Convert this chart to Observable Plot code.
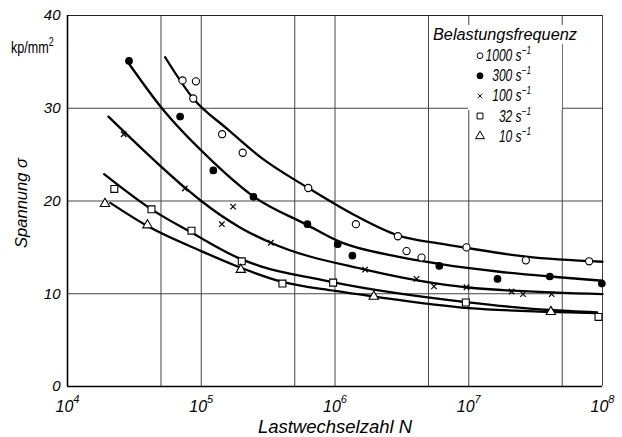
<!DOCTYPE html>
<html><head><meta charset="utf-8">
<script src="https://cdn.jsdelivr.net/npm/d3@7"></script>
<script src="https://cdn.jsdelivr.net/npm/@observablehq/plot@0.6"></script>
<style>
body{margin:0;background:#fff;}
#chart svg{display:block;}
</style></head><body><div id="chart"></div>
<script>
// ---- measured points (log10 of load cycles N, stress sigma in kp/mm^2) ----
const logN_1000 = [4.86, 4.96, 4.94, 5.156, 5.31, 5.80, 6.156, 6.47, 6.535, 6.647, 6.983, 7.427, 7.90];
const sigma_1000 = [33.0, 32.9, 31.05, 27.2, 25.2, 21.4, 17.5, 16.2, 14.6, 13.9, 15.0, 13.6, 13.5];
const logN_300 = [4.46, 4.842, 5.09, 5.39, 5.794, 6.02, 6.13, 6.78, 7.215, 7.606, 7.995];
const sigma_300 = [35.1, 29.1, 23.3, 20.45, 17.5, 15.35, 14.1, 13.0, 11.6, 11.86, 11.1];
const logN_100 = [4.42, 4.877, 5.238, 5.154, 5.52, 6.225, 6.61, 6.74, 6.983, 7.32, 7.406, 7.62];
const sigma_100 = [27.2, 21.35, 19.4, 17.5, 15.5, 12.6, 11.6, 10.8, 10.7, 10.24, 9.96, 9.96];
const logN_32 = [4.35, 4.628, 4.927, 5.303, 5.607, 5.986, 6.978, 7.97];
const sigma_32 = [21.3, 19.1, 16.8, 13.5, 11.1, 11.2, 9.06, 7.5];
const logN_10 = [4.28, 4.598, 5.296, 6.29, 7.614];
const sigma_10 = [19.7, 17.4, 12.6, 9.7, 8.05];

// ---- fitted curves ----
const curveLogN_1000 = [4.73, 4.94, 5.196, 5.445, 5.80, 6.156, 6.47, 6.79, 6.98, 7.43, 8.0];
const curveSigma_1000 = [35.5, 31.05, 27.75, 24.7, 21.4, 18.4, 16.3, 15.4, 14.95, 14.0, 13.45];
const curveLogN_300 = [4.46, 4.70, 5.09, 5.39, 5.794, 6.02, 6.467, 6.79, 7.215, 7.606, 8.0];
const curveSigma_300 = [34.8, 30.1, 24.2, 20.5, 17.4, 15.7, 14.0, 13.2, 12.4, 11.86, 11.4];
const curveLogN_100 = [4.306, 4.877, 5.0, 5.296, 5.52, 6.225, 6.79, 6.98, 8.0];
const curveSigma_100 = [29.1, 21.45, 20.0, 17.1, 15.5, 12.6, 11.04, 10.7, 9.96];
const curveLogN_32 = [4.274, 4.628, 4.927, 5.303, 5.445, 5.9, 6.0, 6.98, 7.6, 7.96];
const curveSigma_32 = [22.9, 19.1, 16.6, 13.7, 12.95, 11.5, 11.2, 9.1, 8.25, 8.0];
const curveLogN_10 = [4.32, 4.598, 5.0, 5.296, 5.6, 6.0, 6.29, 7.0, 7.6, 7.96];
const curveSigma_10 = [19.8, 17.3, 14.6, 12.8, 11.3, 10.3, 9.7, 8.45, 8.05, 7.9];

// ---- axes / labels ----
const xTickExponents = [4, 5, 6, 7, 8];
const xGridN = [1e4, 5e4, 1e5, 5e5, 1e6, 5e6, 1e7, 5e7, 1e8];
const yTicks = [0, 10, 20, 30, 40];
const yGrid = [10, 20, 30];
const seriesKeys = ["1000", "300", "100", "32", "10"];
const legendTitle = "Belastungsfrequenz";
const xTitle = "Lastwechselzahl N";
const yTitle = "Spannung σ";
const yUnit = "kp/mm";

const FONT = "'Liberation Sans', Arial, sans-serif";

const pts = {
  "1000": [logN_1000, sigma_1000], "300": [logN_300, sigma_300], "100": [logN_100, sigma_100],
  "32": [logN_32, sigma_32], "10": [logN_10, sigma_10]
};
const crv = {
  "1000": [curveLogN_1000, curveSigma_1000], "300": [curveLogN_300, curveSigma_300],
  "100": [curveLogN_100, curveSigma_100], "32": [curveLogN_32, curveSigma_32], "10": [curveLogN_10, curveSigma_10]
};
const toRows = (key, [ln, sg]) => ln.map((v, i) => ({N: Math.pow(10, v), s: sg[i], key}));
const pointRows = k => toRows(k, pts[k]);
const curveRows = seriesKeys.flatMap(k => toRows(k, crv[k]));

const style = {
  "1000": {symbol: "circle", fill: "white", r: 3.6},
  "300": {symbol: "circle", fill: "black", r: 3.3},
  "100": {symbol: "times", fill: "none", r: 2.6},
  "32": {symbol: "square", fill: "white", r: 3.9},
  "10": {symbol: "triangle", fill: "white", r: 3.5}
};

const chart = Plot.plot({
  width: 622, height: 437,
  marginLeft: 67, marginRight: 20, marginTop: 15, marginBottom: 51,
  style: {fontFamily: FONT, background: "white", color: "black"},
  x: {type: "log", domain: [1e4, 1e8]},
  y: {domain: [0, 40]},
  marks: [
    Plot.ruleX(xGridN, {stroke: "#444", strokeWidth: 1}),
    Plot.ruleY(yGrid, {stroke: "#444", strokeWidth: 1}),
    Plot.ruleY([40], {stroke: "#222", strokeWidth: 1}),
    Plot.ruleX([1e8], {stroke: "#444", strokeWidth: 1}),
    Plot.ruleY([0], {stroke: "black", strokeWidth: 1.6}),
    Plot.ruleX([1e4], {stroke: "black", strokeWidth: 1.6}),
    Plot.line(curveRows, {x: "N", y: "s", z: "key", curve: "monotone-x", stroke: "black", strokeWidth: 2.3}),
    ...seriesKeys.map(k => Plot.dot(pointRows(k), {
      x: "N", y: "s", symbol: style[k].symbol, r: style[k].r,
      fill: style[k].fill, stroke: "black", strokeWidth: style[k].symbol === "times" ? 1.2 : 1.1
    })),
    Plot.axisY({ticks: yTicks, tickSize: 0, tickPadding: 7, fontSize: 15, fontStyle: "italic", label: null}),
    Plot.axisX({ticks: xTickExponents.map(e => Math.pow(10, e)), tickSize: 0, tickPadding: 14,
      tickFormat: d => String(Math.round(Math.log10(d))), fontSize: 16, fontStyle: "italic", label: null})
  ]
});
document.getElementById("chart").appendChild(chart);

const svg = d3.select(chart);
// superscript exponents on x tick labels
svg.selectAll('[aria-label="x-axis tick label"] text').each(function() {
  const t = d3.select(this);
  const e = t.text();
  t.text("");
  t.append("tspan").text("10");
  t.append("tspan").attr("dy", "-9").attr("font-size", 11).text(e);
});

// y unit (horizontally condensed lettering)
const u = svg.append("text").attr("transform", "translate(11,52.5) scale(0.74,1)")
  .attr("text-anchor", "start").attr("font-family", FONT).attr("font-size", 17).attr("fill", "black");
u.append("tspan").text(yUnit);
u.append("tspan").attr("dy", "-7").attr("font-size", 12).text("2");

// axis titles
svg.append("text").attr("transform", "translate(27,203) rotate(-90)")
  .attr("text-anchor", "middle").attr("font-family", FONT).attr("font-style", "italic")
  .attr("font-size", 16.5).attr("fill", "black").text(yTitle);
svg.append("text").attr("x", 335).attr("y", 433)
  .attr("text-anchor", "middle").attr("font-family", FONT).attr("font-style", "italic")
  .attr("font-size", 18.5).attr("fill", "black").text(xTitle);

// legend
const lg = svg.append("g");
lg.append("rect").attr("x", 468).attr("y", 27).attr("width", 94).attr("height", 83).attr("fill", "white");
lg.append("rect").attr("x", 431).attr("y", 25).attr("width", 149).attr("height", 19).attr("fill", "white");
lg.append("text").attr("x", 433).attr("y", 40).attr("text-anchor", "start")
  .attr("font-family", FONT).attr("font-style", "italic")
  .attr("font-size", 16.3).attr("fill", "black").text(legendTitle);
const symMap = {circle: d3.symbolCircle, times: d3.symbolTimes, square: d3.symbolSquare, triangle: d3.symbolTriangle};
const legendR = {"1000": 2.9, "300": 3.0, "100": 2.2, "32": 3.3, "10": 3.3};
seriesKeys.forEach((k, i) => {
  const yc = 55.7 + i * 20.1;
  const st = style[k];
  lg.append("path")
    .attr("d", d3.symbol(symMap[st.symbol], Math.PI * legendR[k] * legendR[k])())
    .attr("transform", `translate(480,${yc})`)
    .attr("fill", st.fill).attr("stroke", "black").attr("stroke-width", 1);
  const t = lg.append("text").attr("transform", `translate(531,${yc + 5.5}) scale(0.75,1)`)
    .attr("text-anchor", "end")
    .attr("font-family", FONT).attr("font-style", "italic").attr("font-size", 16).attr("fill", "black");
  t.append("tspan").text(k + " s");
  t.append("tspan").attr("dy", "-7").attr("font-size", 11).text("−1");
});
</script></body></html>
